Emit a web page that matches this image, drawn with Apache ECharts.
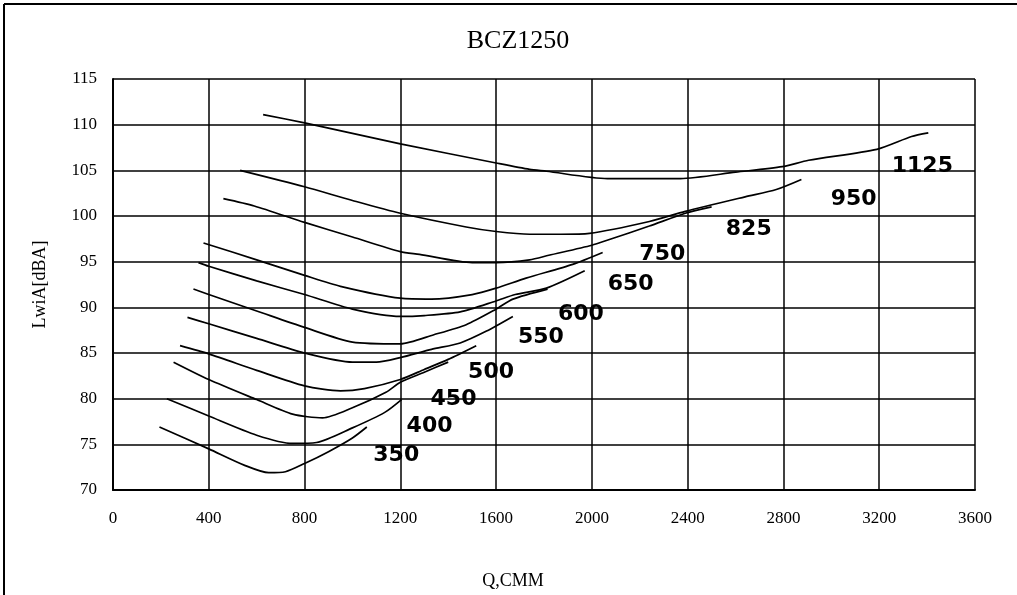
<!DOCTYPE html>
<html>
<head>
<meta charset="utf-8">
<title>BCZ1250</title>
<script src="https://cdn.jsdelivr.net/npm/echarts@6/dist/echarts.min.js"></script>
<style>
  html, body { margin: 0; padding: 0; background: #fff; }
  #chart { width: 1017px; height: 595px; }
</style>
</head>
<body>
<div id="chart"></div>
<script>
// Fan speed curves, [Q (CMM), LwiA (dBA)]
var speeds = ['350', '400', '450', '500', '550', '600', '650', '750', '825', '950', '1125'];

var c350 = [[194, 76.9], [400, 74.5], [550, 72.7], [650, 71.9], [720, 72.0], [800, 72.9], [900, 74.2], [1000, 75.7], [1060, 76.9]];
var c400 = [[225, 80.0], [400, 78.1], [600, 76.0], [750, 75.1], [850, 75.2], [1000, 76.8], [1135, 78.5], [1205, 79.9]];
var c450 = [[253, 84.0], [400, 82.1], [600, 79.9], [750, 78.3], [875, 77.9], [1000, 79.0], [1140, 80.7], [1200, 81.8], [1300, 82.9], [1400, 84.0]];
var c500 = [[280, 85.8], [400, 84.9], [600, 83.1], [800, 81.4], [950, 80.85], [1050, 81.1], [1200, 82.1], [1300, 83.2], [1400, 84.3], [1517, 85.8]];
var c550 = [[311, 88.9], [400, 88.2], [600, 86.6], [800, 85.0], [1000, 84.0], [1100, 84.0], [1200, 84.5], [1330, 85.4], [1450, 86.1], [1560, 87.4], [1670, 89.0]];
var c600 = [[336, 92.0], [400, 91.4], [600, 89.6], [800, 87.8], [1000, 86.2], [1200, 86.0], [1340, 87.0], [1475, 88.1], [1600, 89.8], [1670, 90.9], [1815, 92.0]];
var c650 = [[357, 94.9], [400, 94.5], [600, 92.9], [800, 91.4], [1000, 89.8], [1200, 89.0], [1300, 89.1], [1450, 89.5], [1600, 90.7], [1680, 91.4], [1810, 92.1], [1970, 94.0]];
var c750 = [[378, 97.05], [600, 95.2], [800, 93.5], [950, 92.3], [1200, 91.0], [1330, 90.9], [1500, 91.4], [1600, 92.1], [1725, 93.2], [1920, 94.7], [2045, 96.0]];
var c825 = [[461, 101.9], [590, 101.1], [800, 99.3], [1000, 97.7], [1200, 96.1], [1280, 95.8], [1500, 94.9], [1600, 94.9], [1740, 95.2], [1820, 95.7], [2000, 96.8], [2070, 97.4], [2240, 98.9], [2390, 100.3], [2500, 101.0]];
var c950 = [[531, 105.0], [800, 103.2], [1000, 101.7], [1200, 100.3], [1475, 98.8], [1600, 98.3], [1740, 98.0], [1870, 98.0], [1990, 98.1], [2240, 99.4], [2390, 100.5], [2640, 102.1], [2770, 102.9], [2875, 104.0]];
var c1125 = [[627, 111.1], [800, 110.2], [1000, 109.05], [1200, 107.9], [1600, 105.8], [1740, 105.1], [1810, 104.9], [2065, 104.1], [2370, 104.1], [2600, 104.8], [2795, 105.4], [2905, 106.1], [3190, 107.3], [3335, 108.7], [3405, 109.1]];

var curves = [c350, c400, c450, c500, c550, c600, c650, c750, c825, c950, c1125];

// where each speed label sits, same order as speeds
var labelX = [1183, 1322, 1422, 1579, 1787, 1954, 2162, 2294, 2655, 3093, 3380];
var labelY = [73.75, 77.0, 79.9, 82.9, 86.7, 89.2, 92.5, 95.8, 98.6, 101.8, 105.4];

var xTicks = [0, 400, 800, 1200, 1600, 2000, 2400, 2800, 3200, 3600];

var chart = echarts.init(document.getElementById('chart'));

var series = curves.map(function (pts, i) {
    return {
        name: speeds[i],
        type: 'line',
        data: pts,
        smooth: 0.25,
        showSymbol: false,
        lineStyle: { color: '#000', width: 1.7 },
        z: 3
    };
});

// speed labels (scatter defaults to 0.8 opacity, so force it to 1)
series.push({
    name: 'labels',
    type: 'scatter',
    symbolSize: 0,
    itemStyle: { opacity: 1 },
    data: speeds.map(function (s, i) { return [labelX[i], labelY[i], s]; }),
    label: {
        show: true,
        position: 'inside',
        formatter: function (p) { return p.data[2]; },
        fontFamily: 'DejaVu Sans',
        fontWeight: 'bold',
        fontSize: 22,
        color: '#000',
        opacity: 1
    },
    z: 5
});

var option = {
    backgroundColor: '#fff',
    animation: false,
    title: {
        text: 'BCZ1250',
        left: 513,
        top: 23,
        textAlign: 'center',
        textStyle: { fontFamily: 'Liberation Serif', fontWeight: 'normal', fontSize: 26, color: '#000' }
    },
    grid: { left: 113, right: 42, top: 79, bottom: 104 },
    xAxis: {
        type: 'value',
        min: 0,
        max: 3600,
        interval: 400,
        name: 'Q,CMM',
        nameLocation: 'middle',
        nameGap: 82,
        nameTextStyle: { fontFamily: 'Liberation Serif', fontSize: 18, color: '#000', padding: [0, 62, 0, 0] },
        axisLine: { lineStyle: { color: '#000', width: 2 } },
        axisTick: { show: false },
        axisLabel: {
            margin: 20,
            fontFamily: 'Liberation Serif',
            fontSize: 17,
            color: '#000',
            formatter: function (v) { return xTicks.indexOf(v) >= 0 ? String(v) : ''; }
        },
        splitLine: { show: true, lineStyle: { color: '#000', width: 1.5 } }
    },
    yAxis: {
        type: 'value',
        min: 70,
        max: 115,
        interval: 5,
        name: 'LwiA[dBA]',
        nameLocation: 'middle',
        nameGap: 64,
        nameTextStyle: { fontFamily: 'Liberation Serif', fontSize: 18, color: '#000' },
        axisLine: { show: true, lineStyle: { color: '#000', width: 2 } },
        axisTick: { show: false },
        axisLabel: { margin: 16, fontFamily: 'Liberation Serif', fontSize: 17, color: '#000' },
        splitLine: { show: true, lineStyle: { color: '#000', width: 1.5 } }
    },
    graphic: [
        { type: 'line', shape: { x1: 4, y1: 4, x2: 1017, y2: 4 }, style: { stroke: '#000', lineWidth: 2 } },
        { type: 'line', shape: { x1: 4, y1: 4, x2: 4, y2: 595 }, style: { stroke: '#000', lineWidth: 2 } }
    ],
    series: series
};

chart.setOption(option);
</script>
</body>
</html>
